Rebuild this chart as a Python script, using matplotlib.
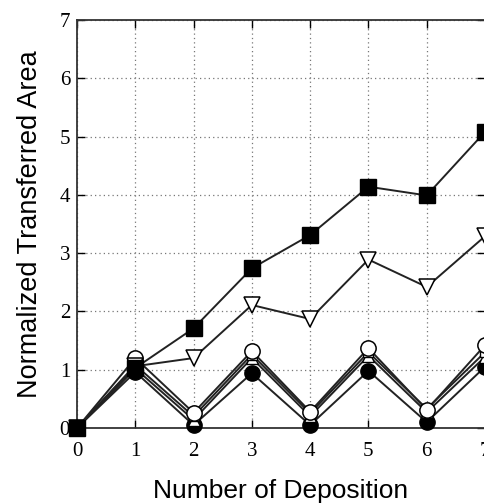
import matplotlib
matplotlib.use('Agg')
import matplotlib.pyplot as plt
import numpy as np

# deposition count and normalized transferred area for each sample
deposition = [0, 1, 2, 3, 4, 5, 6, 7]
area_filled_square = [0, 1.03, 1.71, 2.74, 3.31, 4.14, 3.99, 5.08]
area_open_tri_down = [0, 1.06, 1.20, 2.11, 1.87, 2.89, 2.42, 3.29]
area_open_circle = [0, 1.20, 0.26, 1.32, 0.28, 1.37, 0.31, 1.42]
area_open_square = [0, 1.08, 0.20, 1.26, 0.25, 1.30, 0.33, 1.30]
area_open_tri_up = [0, 1.02, 0.14, 1.20, 0.20, 1.24, 0.27, 1.22]
area_filled_circle = [0, 0.96, 0.05, 0.94, 0.05, 0.98, 0.10, 1.05]

fig = plt.figure(figsize=(4.85, 5.04), dpi=100)
ax = fig.add_axes([77 / 485, 1 - 428 / 504, 1 - 77 / 485, (428 - 20) / 504])

line_kw = dict(color='#222222', lw=1.4, clip_on=False, zorder=3)
ax.plot(deposition, area_filled_circle, marker='o', ms=11, mfc='black',
        mec='black', **line_kw)
ax.plot(deposition, area_open_tri_up, marker='^', ms=8, mfc='white',
        mec='black', mew=1.0, **line_kw)
ax.plot(deposition, area_open_square, marker='s', ms=7, mfc='white',
        mec='black', mew=1.0, **line_kw)
ax.plot(deposition, area_open_circle, marker='o', ms=11, mfc='white',
        mec='black', mew=1.1, **line_kw)
ax.plot(deposition, area_open_tri_down, marker='v', ms=11, mfc='white',
        mec='black', mew=1.1, **line_kw)
ax.plot(deposition, area_filled_square, marker='s', ms=11, mfc='black',
        mec='black', **line_kw)

ax.set_xlim(0, 7)
ax.set_ylim(0, 7)
ax.set_xticks(range(8))
ax.set_yticks(range(8))
ax.grid(True, ls=(0, (1, 2.5)), color='#777777', lw=0.9)
ax.tick_params(direction='in', top=True, right=True, length=6, width=1,
               labelsize=15)
ax.tick_params(axis='x', pad=10)
ax.tick_params(axis='y', pad=5)
for lab in ax.get_xticklabels() + ax.get_yticklabels():
    lab.set_family('Liberation Serif')
for sp in ax.spines.values():
    sp.set_color('#333333')
    sp.set_linewidth(1.3)

ax.set_xlabel('Number of Deposition', family='Liberation Sans', fontsize=19,
              labelpad=13)
ax.set_ylabel('Normalized Transferred Area', family='Liberation Sans',
              fontsize=19.5, labelpad=12)

fig.savefig('out.png', dpi=100)
